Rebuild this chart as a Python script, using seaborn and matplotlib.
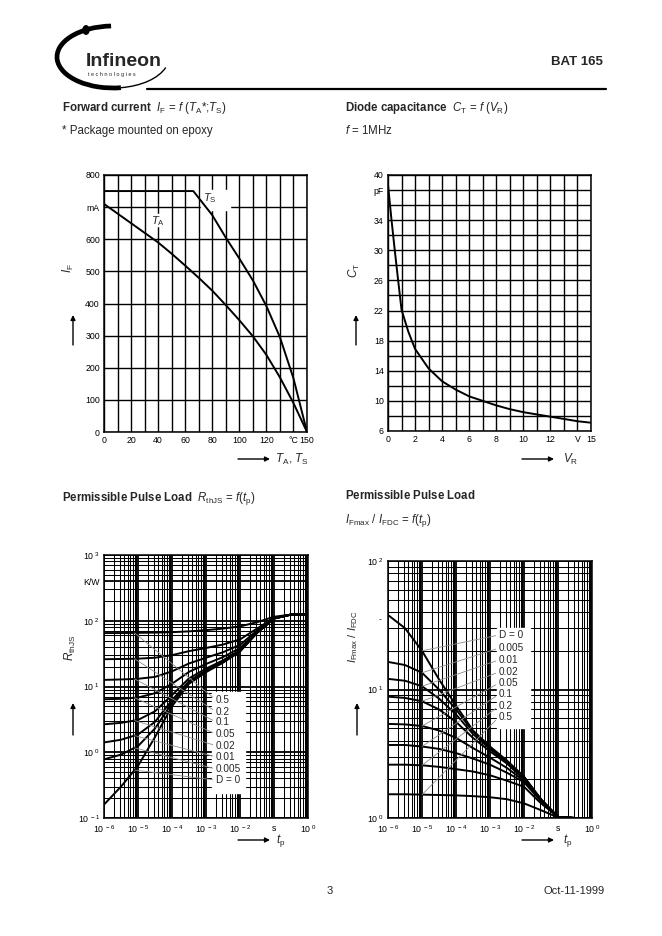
import numpy as np
import pandas as pd
import seaborn as sns
import matplotlib.pyplot as plt
from matplotlib.patches import Arc, Circle, Rectangle
from matplotlib.ticker import FixedLocator, LogLocator, NullFormatter

# ---------------- data ----------------
# forward current vs temperature
ta_temp = [0, 10, 20, 30, 40, 50, 60, 70, 80, 90, 100, 110, 120, 130, 140, 150]
ta_if = [710, 680, 650, 620, 590, 555, 518, 480, 440, 395, 348, 298, 240, 170, 90, 0]
ts_temp = [0, 0, 66, 80, 90, 100, 110, 120, 130, 140, 150]
ts_if = [710, 750, 750, 675, 605, 540, 472, 392, 295, 167, 0]

# diode capacitance vs reverse voltage
vr = [0, 0.25, 0.5, 0.75, 1, 1.5, 2, 3, 4, 5, 6, 7, 8, 9, 10, 11, 12, 13, 14, 15]
ct = [38.7, 34.2, 30.0, 26.0, 22.1, 19.2, 16.9, 14.3, 12.6, 11.5, 10.6, 10.0,
      9.4, 8.9, 8.5, 8.2, 7.9, 7.6, 7.3, 7.1]

# pulse time, half-decade steps 1e-6 .. 1e0
tp = [1e-6, 3.16e-6, 1e-5, 3.16e-5, 1e-4, 3.16e-4, 1e-3, 3.16e-3, 1e-2,
      3.16e-2, 1e-1, 3.16e-1, 1]

duty_rth = ['0.5', '0.2', '0.1', '0.05', '0.02', '0.01', '0.005', 'D = 0']
rth_05 = [65, 65, 65.5, 66, 67, 69, 72, 76, 82, 95, 115, 124, 125]
rth_02 = [26, 26.2, 26.5, 27.4, 30, 34.5, 38.5, 43.5, 52, 76, 110, 124, 125]
rth_01 = [12.6, 12.8, 13.1, 14.0, 17, 22.4, 27.4, 33.2, 43, 71, 110, 124, 125]
rth_005 = [6.4, 6.5, 6.8, 7.9, 11, 16.7, 22, 28, 38.5, 68, 109, 124, 125]
rth_002 = [2.66, 2.8, 3.1, 4.2, 7.4, 13.3, 18.7, 25, 35.8, 66, 108, 124, 125]
rth_001 = [1.41, 1.55, 1.86, 2.9, 6.2, 12.1, 17.6, 24, 35, 65.6, 108, 124, 125]
rth_0005 = [0.78, 0.92, 1.24, 2.3, 5.6, 11.6, 17.0, 23.5, 34.5, 65.3, 108, 124, 125]
rth_0 = [0.16, 0.3, 0.62, 1.7, 5.0, 11, 16.5, 23, 34, 65, 108, 124, 125]

duty_ifm = ['D = 0', '0.005', '0.01', '0.02', '0.05', '0.1', '0.2', '0.5']
ifm_0 = [38, 30, 20, 12, 7.5, 4.8, 3.6, 2.8, 2.1, 1.4, 1.02, 1.0, 1.0]
ifm_0005 = [16.4, 15.5, 13.5, 10, 7, 4.7, 3.5, 2.75, 2.08, 1.4, 1.02, 1.0, 1.0]
ifm_001 = [12.1, 11.7, 10.6, 8.5, 6.4, 4.5, 3.45, 2.7, 2.05, 1.39, 1.02, 1.0, 1.0]
ifm_002 = [8.8, 8.6, 8.1, 7.0, 5.6, 4.2, 3.3, 2.65, 2.0, 1.38, 1.02, 1.0, 1.0]
ifm_005 = [5.4, 5.35, 5.2, 4.8, 4.2, 3.5, 2.95, 2.45, 1.95, 1.37, 1.02, 1.0, 1.0]
ifm_01 = [3.7, 3.7, 3.6, 3.45, 3.2, 2.9, 2.6, 2.25, 1.9, 1.35, 1.02, 1.0, 1.0]
ifm_02 = [2.6, 2.6, 2.57, 2.5, 2.4, 2.3, 2.15, 1.95, 1.75, 1.3, 1.02, 1.0, 1.0]
ifm_05 = [1.53, 1.53, 1.52, 1.51, 1.5, 1.48, 1.45, 1.4, 1.3, 1.15, 1.01, 1.0, 1.0]

rth_curves = [rth_05, rth_02, rth_01, rth_005, rth_002, rth_001, rth_0005, rth_0]
ifm_curves = [ifm_0, ifm_0005, ifm_001, ifm_002, ifm_005, ifm_01, ifm_02, ifm_05]

# ---------------- style ----------------
sns.set_theme(style="white")
plt.rcParams['font.family'] = ['Liberation Sans', 'DejaVu Sans']
plt.rcParams['mathtext.fontset'] = 'custom'
plt.rcParams['mathtext.rm'] = 'Liberation Sans'
plt.rcParams['mathtext.it'] = 'Liberation Sans:italic'
plt.rcParams['mathtext.bf'] = 'Liberation Sans:bold'
plt.rcParams['axes.edgecolor'] = 'black'
plt.rcParams['axes.linewidth'] = 1.0

W, H = 662, 936
fig = plt.figure(figsize=(W / 100, H / 100), dpi=100)


def fx(x):
    return x / W


def fy(y):
    return 1 - y / H


def box(l, t, r, b):
    # page pixel box -> figure fraction rect
    return [fx(l), fy(b), (r - l) / W, (b - t) / H]


TICK = 6.3
LW = 1.4

# ---------------- header ----------------
fig.add_artist(Arc((fx(113), fy(57)), 112 / W, 62 / H, theta1=95, theta2=290,
                   lw=3.4, color='black', transform=fig.transFigure))
fig.add_artist(Arc((fx(113), fy(57)), 112 / W, 62 / H, theta1=290, theta2=352,
                   lw=1.0, color='black', transform=fig.transFigure))
fig.add_artist(Circle((fx(86), fy(30)), 3 / W, color='black', transform=fig.transFigure))
fig.text(fx(86), fy(66), 'Infineon', size=14, weight='bold',
         family=['Liberation Sans Narrow', 'Liberation Sans'], va='baseline', ha='left')
fig.text(fx(88), fy(76), 't e c h n o l o g i e s', size=4, va='baseline', ha='left')
fig.text(fx(603), fy(65), 'BAT 165', size=9.5, weight='bold', ha='right', va='baseline')
fig.add_artist(plt.Line2D([fx(147), fx(606)], [fy(89), fy(89)], lw=1.6, color='black',
                          transform=fig.transFigure))

TS = 8.3
fig.text(fx(62), fy(111),
         r'$\mathbf{Forward\ current}$  $\mathit{I}_\mathrm{F}$ = $\mathit{f}$ ($\mathit{T}_\mathrm{A}$*;$\mathit{T}_\mathrm{S}$)',
         size=TS, va='baseline')
fig.text(fx(62), fy(134), '* Package mounted on epoxy', size=TS, va='baseline')
fig.text(fx(345), fy(111),
         r'$\mathbf{Diode\ capacitance}$  $\mathit{C}_\mathrm{T}$ = $\mathit{f}$ ($\mathit{V}_\mathrm{R}$)',
         size=TS, va='baseline')
fig.text(fx(345), fy(134), r'$\mathit{f}$ = 1MHz', size=TS, va='baseline')
fig.text(fx(62), fy(501),
         r'$\mathbf{Permissible\ Pulse\ Load}$  $\mathit{R}_\mathrm{thJS}$ = $\mathit{f}$($\mathit{t}_\mathrm{p}$)',
         size=TS, va='baseline')
fig.text(fx(345), fy(499), r'$\mathbf{Permissible\ Pulse\ Load}$', size=TS, va='baseline')
fig.text(fx(345), fy(523),
         r'$\mathit{I}_\mathrm{Fmax}$ / $\mathit{I}_\mathrm{FDC}$ = $\mathit{f}$($\mathit{t}_\mathrm{p}$)',
         size=TS, va='baseline')

fig.text(fx(330), fy(894), '3', size=8, ha='center', va='baseline')
fig.text(fx(605), fy(894), 'Oct-11-1999', size=8, ha='right', va='baseline')

# ---------------- axes ----------------
ax1 = fig.add_axes(box(104, 175, 307, 432))
ax2 = fig.add_axes(box(388, 175, 591, 431))
ax3 = fig.add_axes(box(104, 555, 308, 818))
ax4 = fig.add_axes(box(388, 561, 592, 818))

for ax in (ax1, ax2, ax3, ax4):
    ax.set_axisbelow(True)
    ax.tick_params(which='both', length=0, labelsize=TICK, pad=3, colors='black')
    for s in ax.spines.values():
        s.set_color('black')
        s.set_linewidth(1.1)
        s.set_zorder(5)

# forward current
sns.lineplot(x=ta_temp, y=ta_if, ax=ax1, color='black', lw=LW, sort=False, estimator=None)
sns.lineplot(x=ts_temp, y=ts_if, ax=ax1, color='black', lw=LW, sort=False, estimator=None)
ax1.set_xlim(0, 150)
ax1.set_ylim(0, 800)
ax1.xaxis.set_major_locator(FixedLocator(np.arange(0, 151, 10)))
ax1.set_xticklabels(['0', '', '20', '', '40', '', '60', '', '80', '', '100', '', '120', '', '°C', '150'])
ax1.yaxis.set_major_locator(FixedLocator(np.arange(0, 801, 100)))
ax1.set_yticklabels(['0', '100', '200', '300', '400', '500', '600', 'mA', '800'])
ax1.grid(True, color='black', lw=1.0)
ax1.add_patch(Rectangle((72, 690), 21, 62, color='white', zorder=1))
ax1.add_patch(Rectangle((33, 640), 14, 40, color='white', zorder=1))
ax1.text(78, 728, r'$\mathit{T}_\mathrm{S}$', size=8, ha='center', va='center')
ax1.text(40, 658, r'$\mathit{T}_\mathrm{A}$', size=8, ha='center', va='center')

# capacitance
sns.lineplot(x=vr, y=ct, ax=ax2, color='black', lw=LW, sort=False, estimator=None)
ax2.set_xlim(0, 15)
ax2.set_ylim(6, 40)
ax2.xaxis.set_major_locator(FixedLocator(np.arange(0, 16, 1)))
ax2.set_xticklabels(['0', '', '2', '', '4', '', '6', '', '8', '', '10', '', '12', '', 'V', '15'])
ax2.yaxis.set_major_locator(FixedLocator(np.arange(6, 41, 2)))
ax2.set_yticklabels(['6', '', '10', '', '14', '', '18', '', '22', '', '26', '', '30', '', '34', '', 'pF', '40'])
ax2.grid(True, color='black', lw=1.0)

dec_labels = [r'$10^{\ -6}$', r'$10^{\ -5}$', r'$10^{\ -4}$', r'$10^{\ -3}$', r'$10^{\ -2}$', 's',
              r'$10^{\ 0}$']


def log_axes(ax, ylo, yhi):
    ax.set_xscale('log')
    ax.set_yscale('log')
    ax.set_xlim(1e-6, 1)
    ax.set_ylim(ylo, yhi)
    ax.xaxis.set_major_locator(FixedLocator([10.0 ** k for k in range(-6, 1)]))
    ax.set_xticklabels(dec_labels)
    for a in (ax.xaxis, ax.yaxis):
        a.set_minor_locator(LogLocator(base=10, subs=np.arange(2, 10), numticks=100))
        a.set_minor_formatter(NullFormatter())
    ax.grid(True, which='minor', color='black', lw=0.75)
    ax.grid(True, which='major', color='black', lw=1.3)
    ax.tick_params(axis='x', pad=4)


# thermal impedance
df_rth = pd.DataFrame([(t, v, d) for d, c in zip(duty_rth, rth_curves) for t, v in zip(tp, c)],
                      columns=['tp', 'z', 'D'])
log_axes(ax3, 0.1, 1000)
sns.lineplot(data=df_rth, x='tp', y='z', units='D', estimator=None, color='black', lw=LW, ax=ax3)
ax3.yaxis.set_major_locator(FixedLocator([0.1, 1, 10, 100, 400, 1000]))
ax3.set_yticklabels([r'$10^{\ -1}$', r'$10^{\ 0}$', r'$10^{\ 1}$', r'$10^{\ 2}$', 'K/W', r'$10^{\ 3}$'])
ax3.add_patch(Rectangle((0.529, 0.095), 0.162, 0.384, transform=ax3.transAxes,
                        color='white', zorder=1))
lab_y3 = [0.449, 0.404, 0.365, 0.319, 0.275, 0.232, 0.186, 0.144]
for lab, c, yy in zip(duty_rth, rth_curves, lab_y3):
    ax3.annotate(lab, xy=(tp[1] * 2.5, c[1] * (c[2] / c[1]) ** 0.8), xycoords='data',
                 xytext=(0.549, yy), textcoords='axes fraction', size=7.2, va='center', ha='left',
                 arrowprops=dict(arrowstyle='-', color='0.55', lw=0.6, shrinkA=0, shrinkB=0,
                                 relpos=(0, 0.5)), zorder=3)

# pulse current ratio
df_ifm = pd.DataFrame([(t, v, d) for d, c in zip(duty_ifm, ifm_curves) for t, v in zip(tp, c)],
                      columns=['tp', 'r', 'D'])
log_axes(ax4, 1, 100)
sns.lineplot(data=df_ifm, x='tp', y='r', units='D', estimator=None, color='black', lw=LW, ax=ax4)
ax4.yaxis.set_major_locator(FixedLocator([1, 10, 100]))
ax4.set_yticklabels([r'$10^{\ 0}$', r'$10^{\ 1}$', r'$10^{\ 2}$'])
ax4.text(-0.03, 0.77, '-', transform=ax4.transAxes, size=TICK, ha='right', va='center')
ax4.add_patch(Rectangle((0.534, 0.35), 0.162, 0.389, transform=ax4.transAxes,
                        color='white', zorder=1))
lab_y4 = [0.712, 0.661, 0.615, 0.568, 0.525, 0.482, 0.436, 0.393]
for lab, c, yy in zip(duty_ifm, ifm_curves, lab_y4):
    ax4.annotate(lab, xy=(tp[2], c[2]), xycoords='data',
                 xytext=(0.544, yy), textcoords='axes fraction', size=7.2, va='center', ha='left',
                 arrowprops=dict(arrowstyle='-', color='0.55', lw=0.6, shrinkA=0, shrinkB=0,
                                 relpos=(0, 0.5)), zorder=3)

for ax in (ax1, ax2, ax3, ax4):
    ax.set_xlabel('')
    ax.set_ylabel('')
    if ax.get_legend():
        ax.get_legend().remove()

# axis names and arrows
LS = 8.5
fig.text(fx(68), fy(268), r'$\mathit{I}_\mathrm{F}$', size=LS, rotation=90, ha='center', va='center')
fig.text(fx(275), fy(459), r'$\mathit{T}_\mathrm{A}$, $\mathit{T}_\mathrm{S}$', size=LS, ha='left', va='center')
fig.text(fx(354), fy(270), r'$\mathit{C}_\mathrm{T}$', size=LS, rotation=90, ha='center', va='center')
fig.text(fx(563), fy(459), r'$\mathit{V}_\mathrm{R}$', size=LS, ha='left', va='center')
fig.text(fx(70), fy(648), r'$\mathit{R}_\mathrm{thJS}$', size=LS, rotation=90, ha='center', va='center')
fig.text(fx(276), fy(840), r'$\mathit{t}_\mathrm{p}$', size=LS, ha='left', va='center')
fig.text(fx(353), fy(637), r'$\mathit{I}_\mathrm{Fmax}$ / $\mathit{I}_\mathrm{FDC}$', size=8,
         rotation=90, ha='center', va='center')
fig.text(fx(563), fy(840), r'$\mathit{t}_\mathrm{p}$', size=LS, ha='left', va='center')

arrows = [((238, 459), (270, 459)), ((73, 345), (73, 315)),
          ((522, 459), (554, 459)), ((356, 345), (356, 315)),
          ((238, 840), (270, 840)), ((73, 735), (73, 703)),
          ((522, 840), (554, 840)), ((357, 735), (357, 703))]
for (x0, y0), (x1, y1) in arrows:
    ax1.annotate('', xy=(x1, H - y1), xytext=(x0, H - y0), xycoords='figure pixels',
                 textcoords='figure pixels', annotation_clip=False,
                 arrowprops=dict(arrowstyle='-|>', color='black', lw=1.0, mutation_scale=7,
                                 shrinkA=0, shrinkB=0))

fig.savefig('out.png', dpi=100)
